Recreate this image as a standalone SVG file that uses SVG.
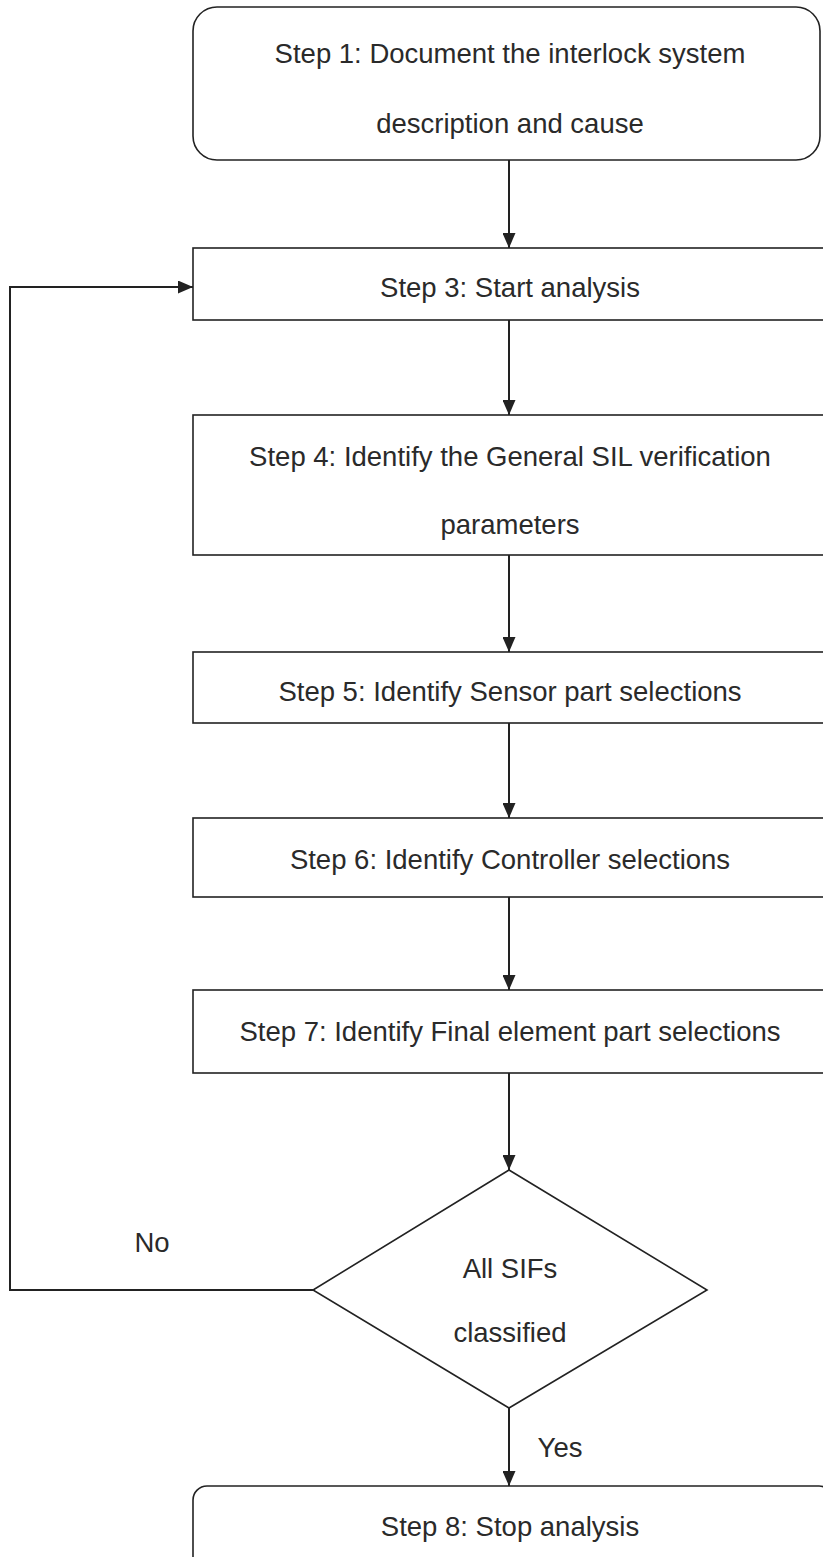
<svg xmlns="http://www.w3.org/2000/svg" width="823" height="1557" viewBox="0 0 823 1557">
<style>
.box{fill:#fff;stroke:#222;stroke-width:1.6}
.t{font-family:"Liberation Sans",Arial,sans-serif;font-size:27.5px;fill:#2a2a2a;text-anchor:middle}
.c{fill:none;stroke:#222;stroke-width:2}
</style>
<defs>
<marker id="ah" viewBox="0 0 15 13" refX="15" refY="6.5" markerWidth="15" markerHeight="13" markerUnits="userSpaceOnUse" orient="auto">
<path d="M0,0 L15,6.5 L0,13 Z" fill="#222"/>
</marker>
</defs>
<rect width="823" height="1557" fill="#fff"/>
<g id="connectors">
<line class="c" x1="509" y1="160" x2="509" y2="248" marker-end="url(#ah)"/>
<line class="c" x1="509" y1="320" x2="509" y2="415" marker-end="url(#ah)"/>
<line class="c" x1="509" y1="555" x2="509" y2="652" marker-end="url(#ah)"/>
<line class="c" x1="509" y1="723" x2="509" y2="818" marker-end="url(#ah)"/>
<line class="c" x1="509" y1="897" x2="509" y2="990" marker-end="url(#ah)"/>
<line class="c" x1="509" y1="1073" x2="509" y2="1170" marker-end="url(#ah)"/>
<line class="c" x1="509" y1="1408" x2="509" y2="1486" marker-end="url(#ah)"/>
<polyline class="c" points="313,1290 10,1290 10,287 193,287" marker-end="url(#ah)"/>
<text class="t" x="152" y="1252">No</text>
<text class="t" x="560" y="1457">Yes</text>
</g>
<g id="step1">
<rect class="box" x="193" y="7" width="627" height="153" rx="24"/>
<text class="t" x="510" y="63">Step 1: Document the interlock system</text>
<text class="t" x="510" y="133">description and cause</text>
</g>
<g id="step3">
<rect class="box" x="193" y="248" width="632" height="72"/>
<text class="t" x="510" y="297">Step 3: Start analysis</text>
</g>
<g id="step4">
<rect class="box" x="193" y="415" width="632" height="140"/>
<text class="t" x="510" y="466">Step 4: Identify the General SIL verification</text>
<text class="t" x="510" y="534">parameters</text>
</g>
<g id="step5">
<rect class="box" x="193" y="652" width="632" height="71"/>
<text class="t" x="510" y="701">Step 5: Identify Sensor part selections</text>
</g>
<g id="step6">
<rect class="box" x="193" y="818" width="632" height="79"/>
<text class="t" x="510" y="869">Step 6: Identify Controller selections</text>
</g>
<g id="step7">
<rect class="box" x="193" y="990" width="632" height="83"/>
<text class="t" x="510" y="1041">Step 7: Identify Final element part selections</text>
</g>
<g id="decision">
<polygon class="box" points="509,1170 707,1290 509,1408 313,1290"/>
<text class="t" x="510" y="1278">All SIFs</text>
<text class="t" x="510" y="1342">classified</text>
</g>
<g id="step8">
<rect class="box" x="193" y="1486" width="640" height="100" rx="14"/>
<text class="t" x="510" y="1536">Step 8: Stop analysis</text>
</g>
</svg>
